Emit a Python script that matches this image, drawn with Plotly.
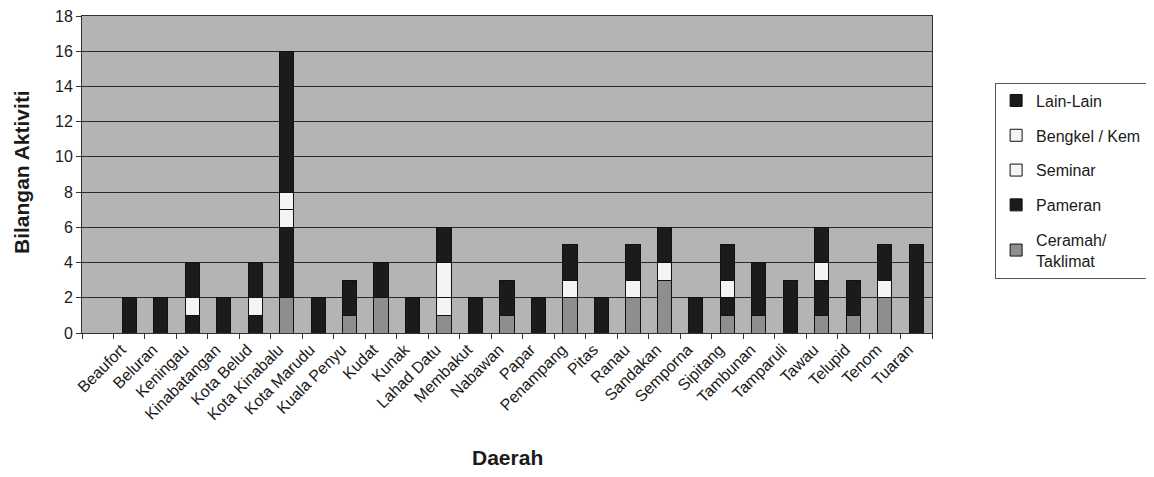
import plotly.graph_objects as go

daerah = ["Beaufort", "Beluran", "Keningau", "Kinabatangan", "Kota Belud", "Kota Kinabalu",
          "Kota Marudu", "Kuala Penyu", "Kudat", "Kunak", "Lahad Datu", "Membakut", "Nabawan",
          "Papar", "Penampang", "Pitas", "Ranau", "Sandakan", "Semporna", "Sipitang", "Tambunan",
          "Tamparuli", "Tawau", "Telupid", "Tenom", "Tuaran"]

ceramah  = [0, 0, 0, 0, 0, 2, 0, 1, 2, 0, 1, 0, 1, 0, 2, 0, 2, 3, 0, 1, 1, 0, 1, 1, 2, 0]
pameran  = [0, 0, 1, 0, 1, 4, 0, 0, 0, 0, 0, 0, 0, 0, 0, 0, 0, 0, 0, 1, 0, 0, 2, 0, 0, 0]
seminar  = [0, 0, 1, 0, 1, 1, 0, 0, 0, 0, 1, 0, 0, 0, 1, 0, 1, 1, 0, 1, 0, 0, 1, 0, 1, 0]
bengkel  = [0, 0, 0, 0, 0, 1, 0, 0, 0, 0, 2, 0, 0, 0, 0, 0, 0, 0, 0, 0, 0, 0, 0, 0, 0, 0]
lainlain = [2, 2, 2, 2, 2, 8, 2, 2, 2, 2, 2, 2, 2, 2, 2, 2, 2, 2, 2, 2, 3, 3, 2, 2, 2, 5]

y_ticks = list(range(0, 19, 2))

series = [
    ("Ceramah/<br>Taklimat", ceramah, "#8e8e8e"),
    ("Pameran", pameran, "#1c1a1a"),
    ("Seminar", seminar, "#f4f4f4"),
    ("Bengkel / Kem", bengkel, "#f4f4f4"),
    ("Lain-Lain", lainlain, "#1c1a1a"),
]

xs = list(range(len(daerah)))
label_pos = [x - 0.25 for x in xs]  # Excel-style label anchoring, slightly left of bar centre

fig = go.Figure()
n = len(series)
for i, (name, vals, col) in enumerate(series):
    fig.add_trace(go.Bar(
        x=xs, y=vals, name=name, legendgroup=str(i), legendrank=n - i,
        marker=dict(color=col, line=dict(color="#111111", width=1)),
        width=0.45,
    ))

# page body has an 8px default margin, so the figure is offset by 8px
fig.update_layout(
    barmode="stack",
    width=1146, height=469,
    margin=dict(l=74, r=221, t=8, b=144),
    paper_bgcolor="white",
    plot_bgcolor="#b4b4b4",
    font=dict(family="Arial, Liberation Sans, sans-serif", color="#1a1a1a", size=15),
    legend=dict(
        x=1.073, y=0.79, xanchor="left", yanchor="top",
        traceorder="grouped", tracegroupgap=11,
        bordercolor="#555555", borderwidth=1, bgcolor="white",
        font=dict(size=16),
    ),
    showlegend=True,
)
fig.update_xaxes(
    range=[-1.5, len(daerah) - 0.5], automargin=False,
    tickmode="array", tickvals=label_pos, ticktext=daerah,
    tickangle=-45, tickfont=dict(size=16), ticklabeloverflow="allow",
    ticks="", showgrid=False,
    minor=dict(tick0=-0.5, dtick=1, ticks="outside", ticklen=5, tickcolor="#333333", showgrid=False),
    showline=True, linecolor="#333333", linewidth=1, mirror=True,
)
fig.update_yaxes(
    range=[0, 18], tickvals=y_ticks, automargin=False, ticklabeloverflow="allow",
    showgrid=True, gridcolor="#2a2a2a", gridwidth=1,
    ticks="outside", ticklen=5, tickcolor="#333333",
    showline=True, linecolor="#333333", linewidth=1, mirror=True,
    zeroline=False, tickfont=dict(size=16),
)

fig.add_annotation(text="<b>Daerah</b>", xref="paper", yref="paper",
                   x=0.5, y=-0.394, xanchor="center", yanchor="middle",
                   showarrow=False, font=dict(size=21))
fig.add_annotation(text="<b>Bilangan Aktiviti</b>", xref="paper", yref="paper",
                   x=-0.0705, y=0.508, xanchor="center", yanchor="middle", textangle=-90,
                   showarrow=False, font=dict(size=21))

fig.write_html("out.html")
